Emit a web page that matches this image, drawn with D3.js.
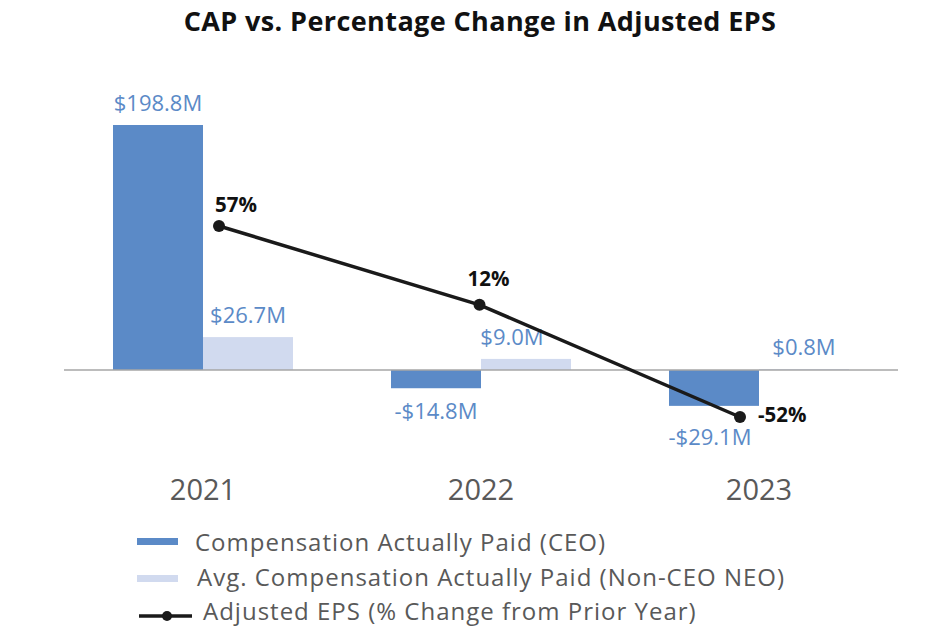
<!DOCTYPE html>
<html>
<head>
<meta charset="utf-8">
<script src="https://cdn.jsdelivr.net/npm/d3@7"></script>
<style>
  body { margin: 0; background: #fff; }
  text { font-family: "Open Sans", sans-serif; }
</style>
</head>
<body>
<div id="chart"></div>
<script>
// data
const years = ['2021', '2022', '2023'];
const series = ['ceo', 'neo'];
const ceoCap = [198.8, -14.8, -29.1];     // $M
const neoCap = [26.7, 9.0, 0.8];          // $M
const epsChange = [57, 12, -52];          // %
const legendLabels = [
    'Compensation Actually Paid (CEO)',
    'Avg. Compensation Actually Paid (Non-CEO NEO)',
    'Adjusted EPS (% Change from Prior Year)'
];

const width = 932;
const height = 632;
const blue = '#5b8ac7';
const lightBlue = '#d1daef';

const svg = d3.select('#chart')
    .append('svg')
    .attr('width', width)
    .attr('height', height);

// title
svg.append('text')
    .attr('x', 480)
    .attr('y', 31)
    .attr('text-anchor', 'middle')
    .attr('font-size', 27)
    .attr('letter-spacing', 0.4)
    .attr('font-weight', 'bold')
    .attr('fill', '#111')
    .text('CAP vs. Percentage Change in Adjusted EPS');

const x0 = d3.scaleBand()
    .domain(years)
    .range([64, 898])
    .paddingInner(0.3525)
    .paddingOuter(0.17625);

const x1 = d3.scaleBand()
    .domain(series)
    .range([0, x0.bandwidth()]);

const yBar = d3.scaleLinear()
    .domain([0, 198.8])
    .range([370, 125]);

// secondary axes for the EPS line
const xLine = d3.scalePoint()
    .domain(years)
    .range([219, 740]);

const yLine = d3.scaleLinear()
    .domain([-52, 57])
    .range([417, 226]);

const barData = [];
years.forEach((yr, i) => {
    barData.push({ year: yr, key: 'ceo', value: ceoCap[i] });
    barData.push({ year: yr, key: 'neo', value: neoCap[i] });
});

const chart = svg.append('g');

chart.selectAll('rect.bar')
    .data(barData).enter()
    .append('rect')
    .attr('class', 'bar')
    .attr('x', d => x0(d.year) + x1(d.key))
    .attr('y', d => yBar(Math.max(0, d.value)))
    .attr('width', x1.bandwidth())
    .attr('height', d => Math.abs(yBar(d.value) - yBar(0)))
    .attr('fill', d => d.key === 'ceo' ? blue : lightBlue);

// zero line
chart.append('line')
    .attr('x1', 64)
    .attr('x2', 898)
    .attr('y1', yBar(0))
    .attr('y2', yBar(0))
    .attr('stroke', '#a6a6a6')
    .attr('stroke-width', 1.5);

// bar labels
chart.selectAll('text.barLabel')
    .data(barData).enter()
    .append('text')
    .attr('class', 'barLabel')
    .attr('x', d => {
        let cx = x0(d.year) + x1(d.key) + x1.bandwidth() / 2;
        if (d.year === '2022' && d.key === 'neo') cx -= 14;
        if (d.year === '2023' && d.key === 'ceo') cx -= 4;
        return cx;
    })
    .attr('y', d => {
        if (d.value >= 0) return yBar(d.value) - 14;
        return yBar(d.value) + (d.year === '2023' ? 39 : 31);
    })
    .attr('text-anchor', 'middle')
    .attr('font-size', 22)
    .attr('fill', blue)
    .text(d => (d.value < 0 ? '-$' : '$') + Math.abs(d.value).toFixed(1) + 'M');

// year axis labels
const xAxis = chart.append('g')
    .attr('transform', 'translate(0, 470)')
    .call(d3.axisBottom(x0).tickSize(0).tickPadding(0));
xAxis.select('.domain').remove();
xAxis.selectAll('text')
    .attr('dy', '30')
    .attr('font-size', 29)
    .attr('fill', '#595959')
    .attr('font-family', '"Open Sans", sans-serif');

// EPS line
const line = d3.line()
    .x((d, i) => xLine(years[i]))
    .y(d => yLine(d));

chart.append('path')
    .datum(epsChange)
    .attr('d', line)
    .attr('fill', 'none')
    .attr('stroke', '#1a1a1a')
    .attr('stroke-width', 3.5);

chart.selectAll('circle.eps')
    .data(epsChange).enter()
    .append('circle')
    .attr('class', 'eps')
    .attr('cx', (d, i) => xLine(years[i]))
    .attr('cy', d => yLine(d))
    .attr('r', 6)
    .attr('fill', '#1a1a1a');

const epsDx = [-4, -12, 18];
const epsDy = [-14, -19, 5];
chart.selectAll('text.epsLabel')
    .data(epsChange).enter()
    .append('text')
    .attr('class', 'epsLabel')
    .attr('x', (d, i) => xLine(years[i]) + epsDx[i])
    .attr('y', (d, i) => yLine(d) + epsDy[i])
    .attr('font-size', 20.5)
    .attr('font-weight', 'bold')
    .attr('fill', '#111')
    .text(d => d + '%');

// legend
const legend = svg.append('g');
const rowY = [543, 578, 612];

legend.append('rect')
    .attr('x', 137).attr('y', rowY[0] - 5)
    .attr('width', 41).attr('height', 7)
    .attr('fill', blue);
legend.append('rect')
    .attr('x', 137).attr('y', rowY[1] - 3)
    .attr('width', 41).attr('height', 7)
    .attr('fill', lightBlue);
legend.append('line')
    .attr('x1', 139).attr('x2', 192)
    .attr('y1', rowY[2] + 4).attr('y2', rowY[2] + 4)
    .attr('stroke', '#1a1a1a')
    .attr('stroke-width', 3.5);
legend.append('circle')
    .attr('cx', 167).attr('cy', rowY[2] + 4)
    .attr('r', 5)
    .attr('fill', '#1a1a1a');

legend.selectAll('text')
    .data(legendLabels).enter()
    .append('text')
    .attr('x', (d, i) => [195, 197, 203][i])
    .attr('y', (d, i) => rowY[i] + 8)
    .attr('font-size', 24)
    .attr('letter-spacing', 1)
    .attr('fill', '#595959')
    .text(d => d);
</script>
</body>
</html>
